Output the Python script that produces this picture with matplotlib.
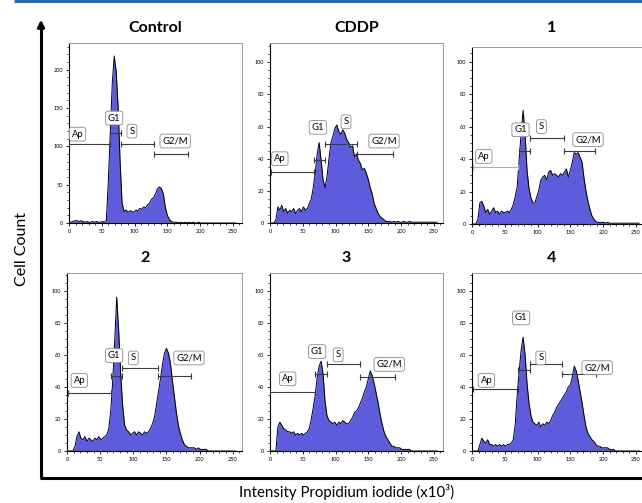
import numpy as np
import matplotlib
matplotlib.use('Agg')
import matplotlib.pyplot as plt
from matplotlib.ticker import MultipleLocator

plt.rcParams['font.family'] = ['Lato', 'DejaVu Sans']

# channel grid (x 10^3), step 3
channels = np.arange(0, 258, 3)

control = [1, 1, 2, 3, 3, 2, 3, 2, 1, 2,
           1, 1, 2, 1, 2, 1, 1, 2, 1, 3,
           55, 117, 182, 218, 198, 150, 80, 26, 15, 17,
           14, 16, 15, 14, 17, 16, 19, 18, 21, 20,
           24, 26, 31, 33, 38, 45, 47, 45, 38, 21,
           10, 5, 2, 1, 1, 1, 0, 1, 0, 1,
           0, 1, 0, 1, 0, 0, 1, 0, 0, 0,
           0, 0, 0, 0, 0, 0, 0, 0, 0, 0,
           0, 0, 0, 0, 0, 0]
cddp = [0, 0, 0, 2, 10, 8, 11, 7, 9, 6,
        8, 7, 9, 6, 8, 9, 7, 10, 8, 9,
        12, 15, 22, 31, 43, 50, 39, 27, 22, 29,
        40, 50, 54, 59, 61, 57, 55, 58, 56, 52,
        50, 47, 48, 41, 43, 39, 37, 33, 34, 31,
        27, 22, 18, 12, 9, 6, 4, 3, 2, 1,
        1, 1, 0.5, 1, 0.5, 1, 0.5, 0.5, 1, 0.5,
        0.5, 1, 0.5, 0.5, 0.5, 0.5, 0.5, 0.5, 0.5, 0.5,
        0.5, 0.5, 0.5, 0.5, 0.5, 0.5]
comp1 = [0, 0, 0, 3, 13, 14, 11, 7, 9, 6,
         8, 10, 7, 8, 6, 8, 7, 7, 8, 7,
         9, 12, 17, 23, 40, 56, 70, 55, 33, 22,
         16, 13, 13, 17, 21, 27, 29, 30, 27, 32,
         33, 30, 31, 30, 29, 31, 30, 32, 34, 29,
         33, 38, 44, 43, 44, 41, 38, 28, 20, 14,
         9, 5, 3, 1.5, 1, 1, 1, 1, 0.5, 1,
         0.5, 0.5, 0.5, 0.5, 0.5, 0.5, 0.5, 0.5, 0.5, 0.5,
         0.5, 0.5, 0.5, 0.5, 0.5, 0.5]
comp2 = [0, 0, 0, 0, 3, 9, 12, 8, 7, 9,
         6, 8, 7, 6, 8, 7, 9, 7, 8, 9,
         10, 14, 25, 44, 69, 96, 75, 48, 28, 16,
         13, 12, 10, 11, 12, 10, 12, 11, 10, 12,
         11, 12, 14, 17, 21, 29, 37, 45, 54, 61,
         64, 61, 55, 44, 34, 24, 16, 11, 7, 4,
         3, 2, 2, 2, 2, 1, 2, 1, 1, 1,
         1, 0, 0, 0, 0, 0, 0, 0, 0, 0,
         0, 0, 0, 0, 0, 0]
comp3 = [0, 0, 0, 0, 15, 18, 16, 14, 13, 12,
         12, 11, 12, 10, 11, 10, 11, 10, 11, 12,
         14, 20, 27, 35, 46, 53, 56, 48, 31, 22,
         19, 18, 17, 18, 16, 18, 17, 19, 18, 17,
         17, 19, 21, 24, 25, 27, 30, 33, 37, 40,
         45, 50, 47, 42, 36, 30, 23, 17, 12, 9,
         7, 5, 3, 3, 2, 2, 2, 1, 1, 1,
         1, 1, 0, 0, 0, 0, 0, 0, 0, 0,
         0, 0, 0, 0, 0, 0]
comp4 = [0, 0, 0, 0, 4, 8, 6, 5, 7, 4,
         4, 3, 4, 3, 4, 3, 4, 3, 4, 4,
         5, 7, 17, 35, 50, 63, 71, 60, 42, 30,
         22, 18, 17, 16, 18, 15, 17, 16, 18, 17,
         19, 22, 24, 27, 29, 31, 33, 35, 37, 40,
         41, 46, 53, 50, 44, 37, 30, 22, 15, 11,
         9, 7, 6, 4, 3, 3, 2, 2, 2, 2,
         1, 1, 1, 0, 0, 0, 0, 0, 0, 0,
         0, 0, 0, 0, 0, 0]

titles = ['Control', 'CDDP', '1', '2', '3', '4']
series = [control, cddp, comp1, comp2, comp3, comp4]
ymax = [235, 112, 109, 111, 111, 111]
ymajor = [50, 20, 20, 20, 20, 20]
yminor = [10, 5, 5, 5, 5, 5]

gate_names = ['Ap', 'G1', 'S', 'G2/M']
# gates per panel: (x0, x1, y) for Ap, G1, S, G2/M
gates = [
    [(0, 62, 103), (63, 80, 118), (80, 129, 103), (129, 182, 90)],
    [(1, 67, 32), (67, 84, 39), (84, 133, 49), (133, 188, 43)],
    [(1.5, 70, 35), (71, 88, 45), (88, 140, 53), (140, 188, 45)],
    [(1.5, 67, 36), (67, 83, 47), (83, 137, 52), (137, 187, 47)],
    [(0, 69, 37), (69, 87, 48), (87, 138, 54), (137, 190, 46)],
    [(1.5, 70, 38.7), (70, 88, 50.5), (88, 138, 54), (138, 189, 48)],
]
# label positions per panel (x, y) for Ap, G1, S, G2/M
label_pos = [
    [(13, 116), (69, 137), (96, 120), (162, 107)],
    [(15, 40), (73, 59.5), (116, 63), (174, 51)],
    [(18, 41.6), (74, 58), (106, 60), (177, 52)],
    [(18.6, 44), (71, 59.5), (100, 58), (184, 58)],
    [(27, 45), (72, 62), (104, 60), (182, 54)],
    [(22, 44), (75, 83), (105, 58), (191, 52)],
]

W, H = 642, 503
fig = plt.figure(figsize=(W / 100, H / 100), dpi=100)

# overlay in pixel coordinates for the frame decorations
ov = fig.add_axes([0, 0, 1, 1])
ov.set_xlim(0, W)
ov.set_ylim(H, 0)
ov.axis('off')
ov.plot([14, W], [1.2, 1.2], color='#1f6db5', lw=2.2, solid_capstyle='butt')
ov.plot([41, 41], [26, 478], color='black', lw=2.2, solid_capstyle='butt')
ov.plot([40, W], [478, 478], color='black', lw=2.2, solid_capstyle='butt')
ov.annotate('', xy=(41, 17), xytext=(41, 30),
            arrowprops=dict(arrowstyle='-|>', color='black', lw=2.0,
                            mutation_scale=10))

boxes = [(69, 242, 43, 223), (270, 443, 43, 223), (472, 645, 47, 224),
         (67, 242, 273, 451), (270, 443, 273, 451), (472, 645, 273, 451)]
title_xy = [(155, 28), (357, 28), (552, 28), (145, 258), (346, 258), (552, 258)]

fill_color = '#5c5cdc'

for i in range(6):
    l, r, t, b = boxes[i]
    ax = fig.add_axes([l / W, 1 - b / H, (r - l) / W, (b - t) / H])
    vals = np.array(series[i], dtype=float)
    ax.fill_between(channels, vals, 0, color=fill_color, lw=0, zorder=2)
    ax.plot(channels, vals, color='black', lw=0.7, zorder=3)
    ax.set_xlim(0, 264)
    ax.set_ylim(0, ymax[i])
    ax.xaxis.set_major_locator(MultipleLocator(50))
    ax.xaxis.set_minor_locator(MultipleLocator(10))
    ax.yaxis.set_major_locator(MultipleLocator(ymajor[i]))
    ax.yaxis.set_minor_locator(MultipleLocator(yminor[i]))
    ax.tick_params(which='major', direction='out', length=2.5, width=0.6,
                   labelsize=4, pad=1.5, color='black')
    ax.tick_params(which='minor', direction='out', length=1.5, width=0.5,
                   color='black')
    for s in ['left', 'bottom']:
        ax.spines[s].set_color('black')
        ax.spines[s].set_linewidth(0.8)
    for s in ['top', 'right']:
        ax.spines[s].set_color('#9a9a9a')
        ax.spines[s].set_linewidth(0.7)
    for k, (x0, x1, y) in enumerate(gates[i]):
        col = '#b0b0b0' if (i == 2 and k == 0) else '#3a3a3a'
        ax.plot([x0, x1], [y, y], color=col, lw=0.8, marker='|', ms=4,
                mew=0.8, zorder=4)
    for k, (x, y) in enumerate(label_pos[i]):
        ax.text(x, y, gate_names[k], fontsize=6.8, ha='center', va='center',
                zorder=5,
                bbox=dict(boxstyle='round,pad=0.25', fc='white',
                          ec='#8a8a8a', lw=0.6))
    tx, ty = title_xy[i]
    fig.text(tx / W, 1 - ty / H, titles[i], fontsize=11.5, fontweight='bold',
             ha='center', va='center')

fig.text(22 / W, 1 - 249 / H, 'Cell Count', rotation=90, fontsize=11.5,
         ha='center', va='center')
fig.text(347 / W, 1 - 492 / H, 'Intensity Propidium iodide (x10³)',
         fontsize=10.8, ha='center', va='center')

fig.savefig('out.png', dpi=100)
